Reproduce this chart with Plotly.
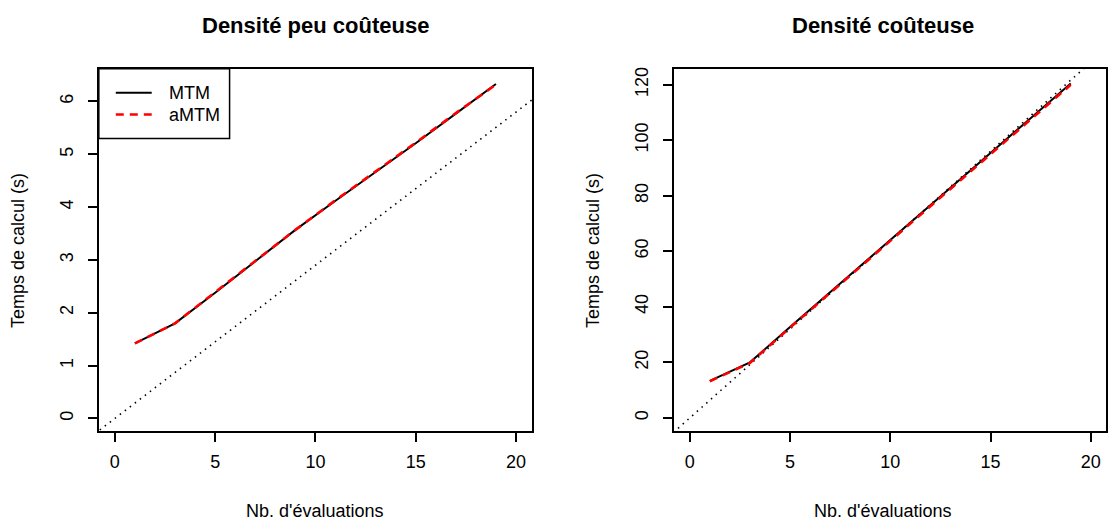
import plotly.graph_objects as go

# ---- data ----
evals = [1, 3, 5, 7, 9, 11, 13, 15, 17, 19]
cheap_mtm = [1.42, 1.80, 2.38, 2.97, 3.57, 4.12, 4.66, 5.21, 5.77, 6.33]
cheap_amtm = [1.42, 1.80, 2.39, 2.98, 3.57, 4.13, 4.67, 5.22, 5.78, 6.32]
costly_mtm = [13.3, 20.0, 32.7, 45.3, 57.9, 70.4, 82.9, 95.4, 107.9, 120.4]
costly_amtm = [13.2, 19.8, 32.5, 45.0, 57.5, 70.0, 82.4, 94.9, 107.4, 119.9]
ref_x = [-2, 22]
cheap_ref_slope = 0.29
costly_ref_slope = 6.4

x_ticks = [0, 5, 10, 15, 20]
cheap_yticks = [0, 1, 2, 3, 4, 5, 6]
costly_yticks = [0, 20, 40, 60, 80, 100, 120]

titles = ["Densité peu coûteuse", "Densité coûteuse"]
xlab = "Nb. d'évaluations"
ylab = "Temps de calcul (s)"
legend_names = ["MTM", "aMTM"]

W, H = 1108, 525
FONT = "Liberation Sans, Arial, Helvetica, sans-serif"
TICK_SIZE = 18
TITLE_SIZE = 22

fig = go.Figure()

def add_panel(xa, ya, mtm, amtm, slope):
    fig.add_trace(go.Scatter(x=ref_x, y=[slope * v for v in ref_x], mode="lines",
                             line=dict(color="black", width=1.6, dash="1.5px,4.8px"),
                             xaxis=xa, yaxis=ya, showlegend=False, hoverinfo="skip"))
    fig.add_trace(go.Scatter(x=evals, y=mtm, mode="lines", name=legend_names[0],
                             line=dict(color="black", width=2),
                             xaxis=xa, yaxis=ya, showlegend=False))
    fig.add_trace(go.Scatter(x=evals, y=amtm, mode="lines", name=legend_names[1],
                             line=dict(color="#ff0000", width=2.6, dash="8px,6px"),
                             xaxis=xa, yaxis=ya, showlegend=False))

add_panel("x", "y", cheap_mtm, cheap_amtm, cheap_ref_slope)
add_panel("x2", "y2", costly_mtm, costly_amtm, costly_ref_slope)

top_px, bot_px = 67, 431
ydom = [(H - bot_px) / H, (H - top_px) / H]
left_dom = [99 / W, 533 / W]
right_dom = [675 / W, 1.0]

axis_common = dict(showgrid=False, zeroline=False, showline=True, mirror=True,
                   linecolor="black", linewidth=1.5, ticks="outside", ticklen=9,
                   tickwidth=1.5, tickcolor="black",
                   tickfont=dict(family=FONT, size=TICK_SIZE, color="black"))

fig.update_layout(
    width=W, height=H, margin=dict(l=0, r=0, t=0, b=0),
    paper_bgcolor="white", plot_bgcolor="white", showlegend=False,
    xaxis=dict(domain=left_dom, range=[-0.8, 20.8], tickvals=x_ticks, anchor="y",
               ticklabelstandoff=4, **axis_common),
    yaxis=dict(domain=ydom, range=[-0.245, 6.62], tickvals=cheap_yticks, anchor="x",
               tickangle=-90, ticklabelstandoff=8, **axis_common),
    xaxis2=dict(domain=right_dom, range=[-0.8, 20.76], tickvals=x_ticks, anchor="y2",
                ticklabelstandoff=4, **axis_common),
    yaxis2=dict(domain=ydom, range=[-4.84, 125.7], tickvals=costly_yticks, anchor="x2",
                tickangle=-90, ticklabelstandoff=8, **axis_common),
)

ann = []
for cx, t in [(316, titles[0]), (885, titles[1])]:
    ann.append(dict(x=cx / W, y=1 - 24 / H, xref="paper", yref="paper", text="<b>%s</b>" % t,
                    showarrow=False, xanchor="center", yanchor="middle",
                    font=dict(family=FONT, size=TITLE_SIZE, color="black")))
for cx in [316, 885]:
    ann.append(dict(x=cx / W, y=1 - 511 / H, xref="paper", yref="paper", text=xlab,
                    showarrow=False, xanchor="center", yanchor="middle",
                    font=dict(family=FONT, size=TICK_SIZE, color="black")))
for cx in [18, 594]:
    ann.append(dict(x=cx / W, y=1 - 249 / H, xref="paper", yref="paper", text=ylab,
                    showarrow=False, xanchor="center", yanchor="middle", textangle=-90,
                    font=dict(family=FONT, size=TICK_SIZE, color="black")))

# legend (drawn manually in top-left of first panel)
shapes = [dict(type="rect", xref="paper", yref="paper", x0=99 / W, x1=230 / W,
               y0=1 - 137 / H, y1=1 - 67 / H, line=dict(color="black", width=1.5),
               fillcolor="white", layer="above")]
for i, (yy, col, dash, w) in enumerate([(91, "black", "solid", 2), (113, "#ff0000", "8px,6px", 2.6)]):
    shapes.append(dict(type="line", xref="paper", yref="paper", x0=116 / W, x1=152 / W,
                       y0=1 - yy / H, y1=1 - yy / H, line=dict(color=col, width=w, dash=dash),
                       layer="above"))
    ann.append(dict(x=167 / W, y=1 - yy / H, xref="paper", yref="paper", text=legend_names[i],
                    showarrow=False, xanchor="left", yanchor="middle",
                    font=dict(family=FONT, size=TICK_SIZE, color="black")))

fig.update_layout(annotations=ann, shapes=shapes)
fig.write_html("out.html")
